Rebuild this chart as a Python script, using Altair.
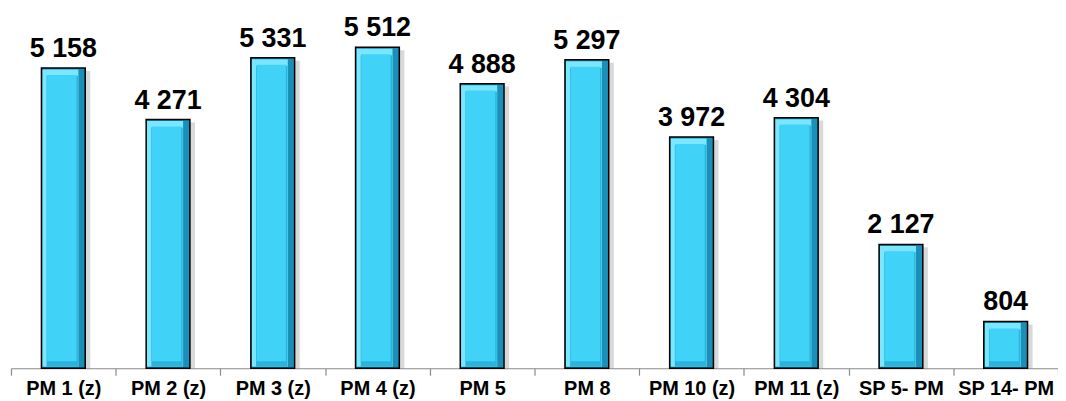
import altair as alt
import pandas as pd

categories = ["PM 1 (z)", "PM 2 (z)", "PM 3 (z)", "PM 4 (z)", "PM 5", "PM 8",
              "PM 10 (z)", "PM 11 (z)", "SP 5- PM", "SP 14- PM"]
values = [5158, 4271, 5331, 5512, 4888, 5297, 3972, 4304, 2127, 804]

df = pd.DataFrame({
    "cat": categories,
    "val": values,
    "lbl": [f"{v:,}".replace(",", " ") for v in values],
})

FONT = "Liberation Sans"
x = alt.X("cat:N", sort=categories, title=None,
          scale=alt.Scale(paddingInner=0, paddingOuter=0),
          axis=alt.Axis(labelAngle=0, labelFontSize=20, labelFontWeight="bold",
                        labelColor="black", labelFont=FONT, labelPadding=3,
                        labelLimit=200, domainColor="#8a8a8a", tickColor="#8a8a8a",
                        tickSize=7, tickBand="extent", domainWidth=1.2, tickWidth=1.2))
y = alt.Y("val:Q", scale=alt.Scale(domain=[0, 6000]), axis=None)
y2 = alt.Y2(datum=0)

base = alt.Chart(df)

shadow = base.mark_bar(width={"band": 0.42}, color="#000000", opacity=0.15,
                       xOffset=5, yOffset=3).encode(x=x, y=y, y2=y2)
outer = base.mark_bar(width={"band": 0.418}, color="#1a8fb8").encode(x=x, y=y, y2=y2)
hilite = base.mark_bar(width={"band": 0.345}, color="#7ae6ff", xOffset=-3,
                       yOffset=1.5, y2Offset=-1.5).encode(x=x, y=y, y2=y2)
bottom = base.mark_bar(width={"band": 0.30}, color="#2ab4dc", xOffset=-1,
                       yOffset=8, y2Offset=-1.5).encode(x=x, y=y, y2=y2)
face = base.mark_bar(width={"band": 0.28}, color="#40d2f7", xOffset=-1.5,
                     yOffset=7, y2Offset=-7).encode(x=x, y=y, y2=y2)
outline = base.mark_bar(width={"band": 0.418}, fillOpacity=0, stroke="black",
                        strokeWidth=1.5).encode(x=x, y=y, y2=y2)
text = base.mark_text(dy=-11, baseline="alphabetic", fontSize=27, fontWeight="bold",
                      font=FONT, color="black").encode(x=x, y=y, text="lbl:N")

chart = alt.layer(shadow, outer, hilite, bottom, face, outline, text).properties(
    width=1052, height=351,
    autosize=alt.AutoSizeParams(type="none"),
    padding={"left": 3, "top": 10, "right": 0, "bottom": 34},
).configure_view(stroke=None)

chart.save("out.html", embed_options={"renderer": "svg", "actions": False})
